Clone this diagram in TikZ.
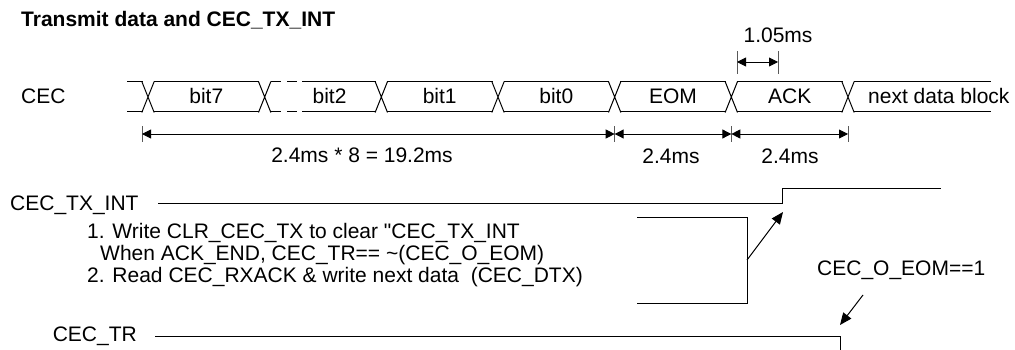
\documentclass[tikz,border=0pt]{standalone}
\usepackage{fontspec}
\setmainfont{Liberation Sans}
\usetikzlibrary{arrows.meta}
\begin{document}
\begin{tikzpicture}[x=1pt,y=-1pt,
  lbl/.style={inner sep=0pt, font=\fontsize{21}{25}\selectfont},
  ttl/.style={inner sep=0pt, font=\fontsize{21}{25}\selectfont\bfseries},
  wave/.style={line width=1pt, line cap=rect},
  dimline/.style={line width=0.9pt, {Triangle[length=9pt,width=9pt]}-{Triangle[length=9pt,width=9pt]}},
  tickmark/.style={line width=1pt, black!65},
  ptr/.style={line width=1pt, -{Triangle[length=12pt,width=10pt]}}]
\useasboundingbox (0,0) rectangle (1015,350);
\def\T{82}
\def\B{112}
% title
\node[ttl, anchor=base west] (title) at (21,27) {Transmit data and CEC\_TX\_INT};
% CEC bus
\node[lbl, anchor=base west] (ceclbl) at (21,104) {CEC};
\foreach \c in {148,264.67,381.33,498,614.67,731.33,848}
  \draw[wave] (\c-6,\T) -- (\c+6,\B) (\c-6,\B) -- (\c+6,\T);
\foreach \a/\b in {127/142,154/258.67,302/375.33,387.33/492,504/608.67,620.67/725.33,737.33/842,854/990}
  \draw[wave] (\a,\T) -- (\b,\T) (\a,\B) -- (\b,\B);
\draw[wave, dash pattern=on 9pt off 7pt] (271,\T) -- (302,\T) (271,\B) -- (302,\B);
\node[lbl, anchor=base] (b7) at (206.3,104) {bit7};
\node[lbl, anchor=base] (b2) at (329.5,104) {bit2};
\node[lbl, anchor=base] (b1) at (439.7,104) {bit1};
\node[lbl, anchor=base] (b0) at (556.3,104) {bit0};
\node[lbl, anchor=base] (eom) at (673,104) {EOM};
\node[lbl, anchor=base] (ack) at (789.7,104) {ACK};
\node[lbl, anchor=base west] (next) at (868,104) {next data block};
% dimensions
\coordinate (d0) at (142,134);
\coordinate (d1) at (614.67,134);
\coordinate (d2) at (731.33,134);
\coordinate (d3) at (848,134);
\foreach \p in {d0,d1,d2,d3}
  \draw[tickmark] ([yshift=-8pt]\p) -- ([yshift=8pt]\p);
\draw[dimline] (d0) -- (d1);
\draw[dimline] (d1) -- (d2);
\draw[dimline] (d2) -- (d3);
\node[lbl, anchor=base] (l8) at (362,163) {2.4ms * 8 = 19.2ms};
\node[lbl, anchor=base] (leom) at (671,164) {2.4ms};
\node[lbl, anchor=base] (lack) at (790,164) {2.4ms};
% 1.05ms
\coordinate (e0) at (737,62);
\coordinate (e1) at (778,62);
\foreach \p in {e0,e1}
  \draw[tickmark] ([yshift=-12pt]\p) -- ([yshift=11pt]\p);
\draw[dimline] (e0) -- (e1);
\node[lbl, anchor=base] (l105) at (778,43) {1.05ms};
% CEC_TX_INT
\node[lbl, anchor=base west] (txlbl) at (10,210) {CEC\_TX\_INT};
\coordinate (tx0) at (158,203);
\coordinate (tx1) at (782,203);
\coordinate (tx2) at (782,188);
\coordinate (tx3) at (940,188);
\draw[wave] (tx0) -- (tx1) -- (tx2) -- (tx3);
\node[lbl, anchor=base west] (n1) at (87,238) {1. Write CLR\_CEC\_TX to clear \textquotedbl CEC\_TX\_INT};
\node[lbl, anchor=base west] (n2) at (100,260) {When ACK\_END, CEC\_TR== \textasciitilde(CEC\_O\_EOM)};
\node[lbl, anchor=base west] (n3) at (87,282) {2. Read CEC\_RXACK \& write next data\ \ (CEC\_DTX)};
\coordinate (br0) at (637,217);
\coordinate (br1) at (747,217);
\coordinate (br2) at (747,303);
\coordinate (br3) at (637,303);
\coordinate (brm) at (747,260);
\draw[wave] (br0) -- (br1) -- (br2) -- (br3);
\draw[ptr] (brm) -- (783,212);
% CEC_O_EOM
\node[lbl, anchor=base west] (eoml) at (817,275) {CEC\_O\_EOM==1};
\draw[ptr] (863,295) -- (840,325);
% CEC_TR
\node[lbl, anchor=base east] (trlbl) at (137,341) {CEC\_TR};
\coordinate (tr0) at (155,336);
\coordinate (tr1) at (840,336);
\coordinate (tr2) at (840,351);
\draw[wave] (tr0) -- (tr1) -- (tr2);
\end{tikzpicture}
\end{document}
